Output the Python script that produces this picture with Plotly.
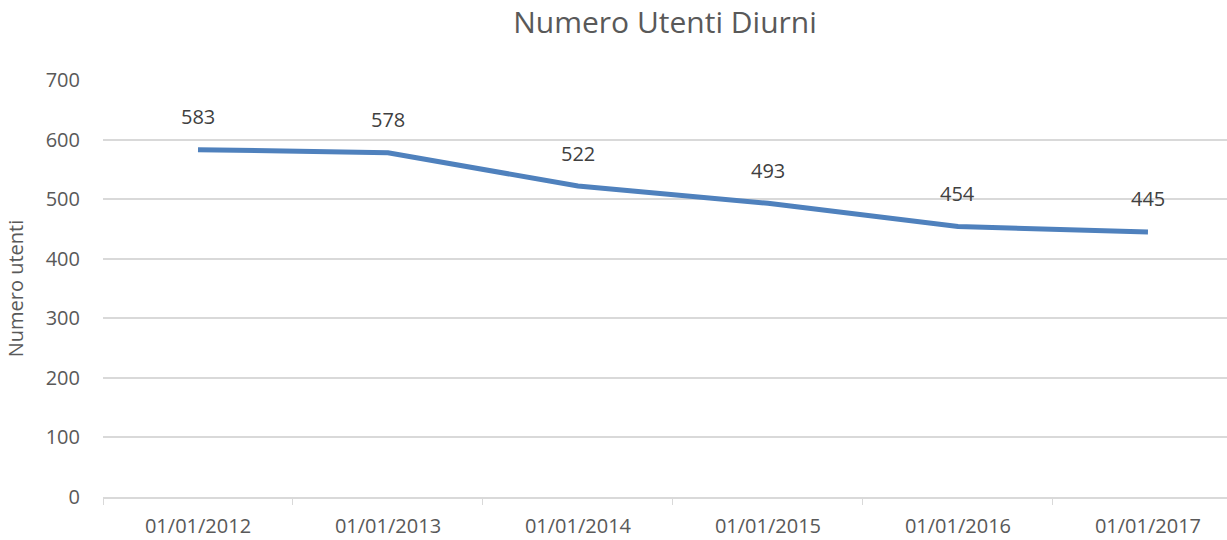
import plotly.graph_objects as go

categories = ["01/01/2012", "01/01/2013", "01/01/2014", "01/01/2015", "01/01/2016", "01/01/2017"]
values = [583, 578, 522, 493, 454, 445]
y_ticks = [0, 100, 200, 300, 400, 500, 600, 700]

font_family = "Open Sans, Noto Sans, sans-serif"
grey = "#595959"
grid = "#d9d9d9"

fig = go.Figure()
fig.add_trace(go.Scatter(
    x=categories, y=values, mode="lines",
    line=dict(color="#4F81BD", width=5),
    hoverinfo="x+y",
))

for c, v in zip(categories, values):
    fig.add_annotation(x=c, y=v, text=str(v), showarrow=False, yshift=33,
                       font=dict(family=font_family, size=20, color="#404040"))

fig.update_layout(
    width=1227, height=540,
    margin=dict(l=103, r=0, t=80, b=43),
    paper_bgcolor="white", plot_bgcolor="white",
    showlegend=False,
    title=dict(text="Numero Utenti Diurni", x=0.5, xref="paper", y=0.958, yanchor="middle",
               font=dict(family=font_family, size=30, color=grey)),
    font=dict(family=font_family, color=grey),
)
fig.update_xaxes(
    type="category", range=[-0.5, 5.416],
    tickson="boundaries", ticks="outside", ticklen=6, tickcolor=grid,
    showline=True, linecolor=grid, linewidth=1.5,
    ticklabelstandoff=10,
    showgrid=False, tickfont=dict(size=20, color=grey),
)
fig.update_yaxes(
    range=[0, 700], tickvals=y_ticks,
    showgrid=True, gridcolor=grid, gridwidth=1.5,
    zeroline=False, showline=False, ticks="",
    ticklabelstandoff=22,
    tickfont=dict(size=20, color=grey),
    title=dict(text="Numero utenti", font=dict(size=20, color=grey), standoff=16),
)

fig.write_html("out.html", config={"displayModeBar": False},
               post_script="document.body.style.margin='0';")
